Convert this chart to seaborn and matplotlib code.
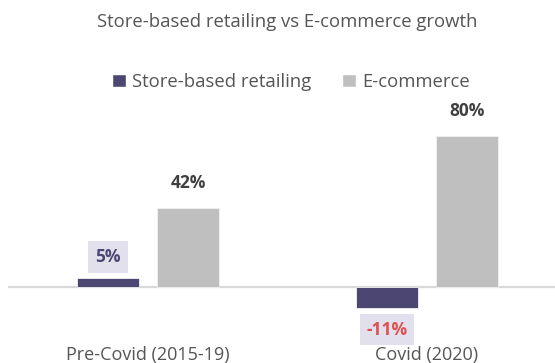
import matplotlib
matplotlib.use("Agg")
import matplotlib.pyplot as plt
from matplotlib.patches import Patch
import seaborn as sns
import pandas as pd

# Growth figures per period and channel
periods = ["Pre-Covid (2015-19)", "Covid (2020)"]
channels = ["Store-based retailing", "E-commerce"]
store_growth = [5, -11]
ecommerce_growth = [42, 80]

title = "Store-based retailing vs E-commerce growth"

STORE_COLOR = "#4b4772"
ECOM_COLOR = "#bfbfbf"
TEXT_COLOR = "#555555"
VALUE_COLOR = "#404040"
BOX_COLOR = "#e1e0ec"
NEG_COLOR = "#e0504f"

df = pd.DataFrame({
    "period": periods * 2,
    "channel": [channels[0]] * 2 + [channels[1]] * 2,
    "growth": store_growth + ecommerce_growth,
})

sns.set_theme(style="white")
plt.rcParams["font.family"] = ["Open Sans", "DejaVu Sans"]

W, H = 555, 363
fig = plt.figure(figsize=(W / 100, H / 100), dpi=100)
ax_left, ax_right, ax_top, ax_bottom = 8, 555, 95, 342
ax = fig.add_axes([ax_left / W, 1 - ax_bottom / H,
                   (ax_right - ax_left) / W, (ax_bottom - ax_top) / H])

sns.barplot(data=df, x="period", y="growth", hue="channel", order=periods,
            hue_order=channels, palette=[STORE_COLOR, ECOM_COLOR],
            width=0.574, gap=0.227, saturation=1, ax=ax, legend=False,
            edgecolor="#f2f2f2", linewidth=0.6)

px_per_unit = 1.895
zero_px = 287.3
ax.set_xlim(-0.502, 1.459)
ax.set_ylim(-(ax_bottom - zero_px) / px_per_unit, (zero_px - ax_top) / px_per_unit)
ax.axhline(0, color="#d9d9d9", lw=1.6, zorder=0.5)

for s in ax.spines.values():
    s.set_visible(False)
ax.set_yticks([])
ax.set_xlabel("")
ax.set_ylabel("")
ax.tick_params(axis="x", length=0, pad=3, labelsize=13, labelcolor=TEXT_COLOR)

# Value labels taken from the bar containers
store_bars, ecom_bars = ax.containers
for bar, val in zip(store_bars, store_growth):
    cx = bar.get_x() + bar.get_width() / 2
    if val >= 0:
        ax.annotate(f"{val}%", (cx, val), xytext=(0, 15), textcoords="offset points",
                    ha="center", va="center", fontsize=12.5, fontweight="bold",
                    color=STORE_COLOR,
                    bbox=dict(boxstyle="square,pad=0.4", fc=BOX_COLOR, ec="none"))
    else:
        ax.annotate(f"{val}%", (cx, val), xytext=(0, -15.5), textcoords="offset points",
                    ha="center", va="center", fontsize=12.5, fontweight="bold",
                    color=NEG_COLOR,
                    bbox=dict(boxstyle="square,pad=0.36", fc=BOX_COLOR, ec="none"))
for bar, val in zip(ecom_bars, ecommerce_growth):
    cx = bar.get_x() + bar.get_width() / 2
    ax.annotate(f"{val}%", (cx, val), xytext=(0, 18), textcoords="offset points",
                ha="center", va="center", fontsize=12.5, fontweight="bold",
                color=VALUE_COLOR)

fig.text(287 / W, 1 - 22 / H, title, ha="center", va="center",
         fontsize=13.3, color=TEXT_COLOR)

handles = [Patch(facecolor=STORE_COLOR), Patch(facecolor=ECOM_COLOR)]
fig.legend(handles, channels, loc="center", bbox_to_anchor=(291 / W, 1 - 82 / H),
           ncol=2, frameon=False, fontsize=13.3, labelcolor=TEXT_COLOR,
           handlelength=0.75, handleheight=0.75, handletextpad=0.3,
           columnspacing=1.7)

fig.savefig("out.png", dpi=100, facecolor="white")
